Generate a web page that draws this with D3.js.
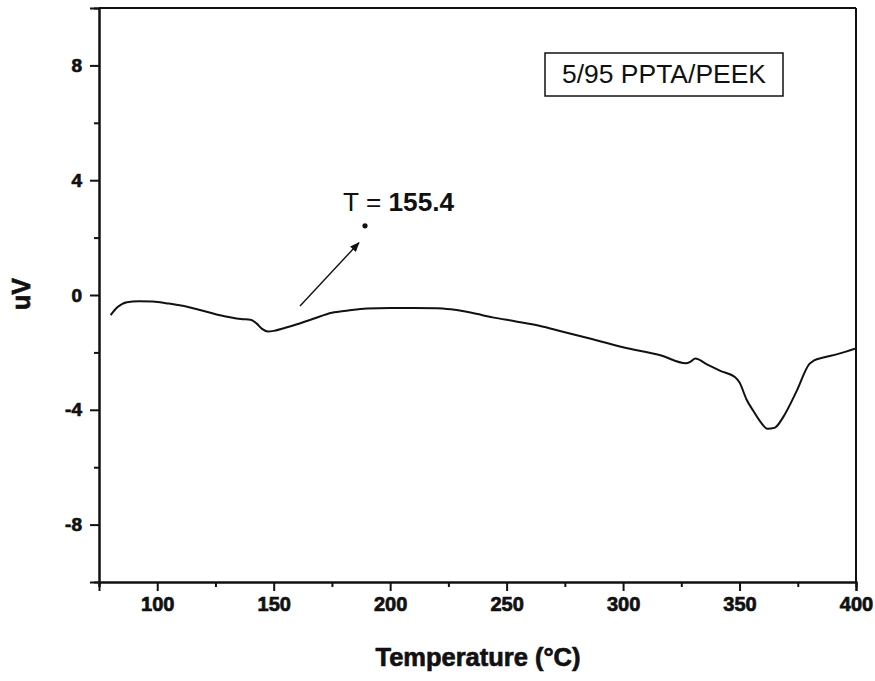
<!DOCTYPE html>
<html>
<head>
<meta charset="utf-8">
<script src="https://cdn.jsdelivr.net/npm/d3@7"></script>
<style>
  html, body { margin: 0; padding: 0; background: #fff; }
  svg { display: block; }
</style>
</head>
<body>
<svg id="chart" width="875" height="681"></svg>
<script>
// DSC trace of the 5/95 PPTA/PEEK blend: temperature (°C) vs heat flow (uV)
const temperature = [80, 83, 87, 92, 98, 105, 115, 122, 130, 136, 140, 142.5, 145, 147.5, 150,
  155, 160, 167, 175, 182, 190, 200, 210, 220, 226, 235, 244, 254, 264, 275, 287, 300, 316,
  327, 329, 331, 336, 342, 348, 350, 353, 356, 359, 362, 365, 369, 374.5, 380, 382, 386, 392, 400];
const signal = [-0.70, -0.42, -0.25, -0.22, -0.23, -0.30, -0.45, -0.60, -0.76, -0.84, -0.86, -0.98, -1.18, -1.27, -1.25,
  -1.14, -1.02, -0.83, -0.62, -0.54, -0.47, -0.45, -0.45, -0.46, -0.50, -0.62, -0.78, -0.92, -1.07, -1.30, -1.54, -1.82, -2.10,
  -2.38, -2.32, -2.21, -2.42, -2.65, -2.86, -3.05, -3.64, -4.05, -4.42, -4.66, -4.63, -4.22, -3.35, -2.40, -2.28, -2.18, -2.06, -1.86];

const xMajorTicks = [100, 150, 200, 250, 300, 350, 400];
const xMinorTicks = [75, 125, 175, 225, 275, 325, 375];
const yMajorTicks = [-8, -4, 0, 4, 8];
const yMinorTicks = [-6, -2, 2, 6];

const sampleName = "5/95 PPTA/PEEK";
const xTitle = "Temperature (°C)";
const yTitle = "uV";

// glass-transition annotation: label, marker dot, arrow (data units)
const tgLabelPrefix = "T = ";
const tgValue = 155.4;
const tgLabelAt = [179.8, 2.94];
const tgDot = [189.2, 2.41];
const tgArrowFrom = [161.3, -0.38];
const tgArrowTo = [186.6, 1.82];

const plotLeft = 99, plotRight = 856, plotTop = 8, plotBottom = 582;
const FONT = "'Liberation Sans', Arial, sans-serif";

const svg = d3.select("#chart");
const x = d3.scaleLinear().domain([75, 400]).range([plotLeft, plotRight]);
const y = d3.scaleLinear().domain([-10, 10]).range([plotBottom, plotTop]);
const plainNumber = d => String(d);

svg.append("defs").append("marker")
  .attr("id", "arrowhead")
  .attr("viewBox", "0 0 10 10")
  .attr("refX", 9).attr("refY", 5)
  .attr("markerWidth", 7).attr("markerHeight", 7)
  .attr("orient", "auto")
  .append("path").attr("d", "M0,1 L10,5 L0,9 Z").attr("fill", "#111");

// frame: top and right edges
svg.append("line").attr("x1", plotLeft).attr("x2", plotRight).attr("y1", plotTop).attr("y2", plotTop)
  .attr("stroke", "#111").attr("stroke-width", 2);
svg.append("line").attr("x1", plotRight).attr("x2", plotRight).attr("y1", plotTop).attr("y2", plotBottom)
  .attr("stroke", "#111").attr("stroke-width", 2);

// heavy bold labels, thickened with a thin outline
function heavy(sel, size) {
  sel.style("font-family", FONT)
    .style("font-weight", "bold")
    .style("font-size", size + "px")
    .attr("fill", "#111")
    .attr("stroke", "#111")
    .attr("stroke-width", 0.7)
    .attr("paint-order", "stroke");
}

function styleAxis(g, size) {
  g.select(".domain").attr("stroke", "#111").attr("stroke-width", 2);
  g.selectAll(".tick line").attr("stroke", "#111").attr("stroke-width", 2);
  heavy(g.selectAll(".tick text"), size);
}

// x axis: major ticks with labels, minor ticks without
const gxMinor = svg.append("g").attr("transform", `translate(0,${plotBottom})`)
  .call(d3.axisBottom(x).tickValues(xMinorTicks).tickSize(5).tickFormat(""));
const gx = svg.append("g").attr("transform", `translate(0,${plotBottom})`)
  .call(d3.axisBottom(x).tickValues(xMajorTicks).tickSize(9).tickPadding(6).tickFormat(plainNumber));
styleAxis(gxMinor, 20);
styleAxis(gx, 20);

// y axis
const gyMinor = svg.append("g").attr("transform", `translate(${plotLeft},0)`)
  .call(d3.axisLeft(y).tickValues(yMinorTicks).tickSize(5).tickFormat(""));
const gy = svg.append("g").attr("transform", `translate(${plotLeft},0)`)
  .call(d3.axisLeft(y).tickValues(yMajorTicks).tickSize(9).tickPadding(8).tickFormat(plainNumber));
styleAxis(gyMinor, 19);
styleAxis(gy, 19);

// axis titles
svg.append("text")
  .attr("x", 478).attr("y", 666)
  .attr("text-anchor", "middle")
  .attr("textLength", 205).attr("lengthAdjust", "spacingAndGlyphs")
  .text(xTitle)
  .call(heavy, 26);

svg.append("text")
  .attr("transform", "translate(30,294) rotate(-90)")
  .attr("text-anchor", "middle")
  .text(yTitle)
  .call(heavy, 25);

// DSC curve
const points = temperature.map((t, i) => [t, signal[i]]);
svg.append("path")
  .datum(points)
  .attr("fill", "none")
  .attr("stroke", "#111")
  .attr("stroke-width", 2)
  .attr("stroke-linejoin", "round")
  .attr("d", d3.line().x(d => x(d[0])).y(d => y(d[1])).curve(d3.curveMonotoneX));

// sample legend box
const legend = svg.append("g");
legend.append("rect")
  .attr("x", 545).attr("y", 53).attr("width", 238).attr("height", 43)
  .attr("fill", "#fff").attr("stroke", "#111").attr("stroke-width", 1.5);
legend.append("text")
  .attr("x", 664).attr("y", 83)
  .attr("text-anchor", "middle")
  .style("font-family", FONT)
  .style("font-size", "26px")
  .attr("textLength", 204).attr("lengthAdjust", "spacingAndGlyphs")
  .attr("fill", "#111")
  .text(sampleName);

// Tg annotation
const tgText = svg.append("text")
  .attr("x", x(tgLabelAt[0])).attr("y", y(tgLabelAt[1]))
  .style("font-family", FONT)
  .style("font-size", "25px")
  .attr("textLength", 111).attr("lengthAdjust", "spacingAndGlyphs")
  .attr("fill", "#111");
tgText.append("tspan").text(tgLabelPrefix);
tgText.append("tspan").style("font-weight", "bold").text(tgValue.toFixed(1));

svg.append("circle")
  .attr("cx", x(tgDot[0])).attr("cy", y(tgDot[1])).attr("r", 2.6)
  .attr("fill", "#111");

svg.append("line")
  .attr("x1", x(tgArrowFrom[0])).attr("y1", y(tgArrowFrom[1]))
  .attr("x2", x(tgArrowTo[0])).attr("y2", y(tgArrowTo[1]))
  .attr("stroke", "#111").attr("stroke-width", 1.4)
  .attr("marker-end", "url(#arrowhead)");
</script>
</body>
</html>
